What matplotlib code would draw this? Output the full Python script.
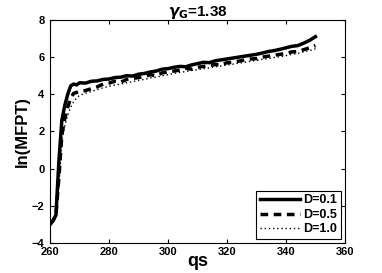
import matplotlib
matplotlib.use("Agg")
from matplotlib import pyplot as plt

plt.rcParams['font.family'] = ['Liberation Sans', 'DejaVu Sans']
plt.rcParams['font.weight'] = 'bold'

# qs grid (fine near the steep rise, coarser afterwards)
qs = [260, 261, 262, 263, 264, 265, 266, 267, 268, 269, 270,
      272, 274, 276, 278, 280, 282, 284, 286, 288, 290,
      292, 294, 296, 298, 300, 302, 304, 306, 308, 310,
      312, 314, 316, 318, 320, 322, 324, 326, 328, 330,
      332, 334, 336, 338, 340, 342, 344, 346, 348, 350]

# ln(MFPT) for D=0.1
d01 = [-3.0, -2.8, -2.5, 0.4, 2.6, 3.4, 4.0, 4.45, 4.55, 4.5, 4.62,
       4.6, 4.7, 4.72, 4.8, 4.82, 4.9, 4.92, 5.0, 4.98, 5.08,
       5.12, 5.2, 5.25, 5.35, 5.38, 5.45, 5.5, 5.48, 5.58, 5.65,
       5.72, 5.7, 5.8, 5.85, 5.9, 5.95, 6.0, 6.05, 6.1, 6.15,
       6.22, 6.3, 6.35, 6.42, 6.5, 6.58, 6.62, 6.75, 6.9, 7.1]

# ln(MFPT) for D=0.5
d05 = [-3.0, -2.8, -2.5, -0.5, 1.8, 2.7, 3.3, 3.8, 4.05, 4.1, 4.15,
       4.2, 4.3, 4.4, 4.55, 4.6, 4.7, 4.65, 4.8, 4.85, 4.9,
       4.95, 5.05, 5.0, 5.15, 5.2, 5.25, 5.3, 5.4, 5.35, 5.45,
       5.5, 5.55, 5.6, 5.58, 5.7, 5.72, 5.78, 5.85, 5.9, 5.92,
       6.0, 6.05, 6.1, 6.15, 6.2, 6.28, 6.3, 6.4, 6.5, 6.62]

# ln(MFPT) for D=1.0
d10 = [-3.0, -2.8, -2.5, -1.0, 1.5, 2.3, 2.9, 3.3, 3.6, 3.8, 3.95,
       4.05, 4.15, 4.25, 4.35, 4.42, 4.5, 4.55, 4.62, 4.68, 4.75,
       4.8, 4.88, 4.92, 5.0, 5.05, 5.12, 5.18, 5.22, 5.28, 5.32,
       5.38, 5.42, 5.48, 5.52, 5.58, 5.62, 5.68, 5.72, 5.78, 5.82,
       5.88, 5.92, 5.98, 6.02, 6.08, 6.15, 6.2, 6.28, 6.35, 6.45]

fig = plt.figure(figsize=(3.82, 2.73), dpi=100)
ax = fig.add_axes([0.131, 0.11, 0.772, 0.817])

ax.plot(qs, d01, color='black', linestyle='-', linewidth=2.5, label='D=0.1')
ax.plot(qs, d05, color='black', linestyle=(0, (2.2, 1.6)), linewidth=2.5, label='D=0.5')
ax.plot(qs, d10, color='black', linestyle=(0, (1, 2)), linewidth=1.0, label='D=1.0')

ax.set_xlim(260, 360)
ax.set_ylim(-4, 8)
ax.set_xticks([260, 280, 300, 320, 340, 360])
ax.set_yticks([-4, -2, 0, 2, 4, 6, 8])
ax.tick_params(direction='in', length=3, labelsize=8, top=True, right=True)
ax.tick_params(axis='x', pad=3)
ax.tick_params(axis='y', pad=4)
for lab in ax.get_xticklabels() + ax.get_yticklabels():
    lab.set_fontweight('bold')

ax.set_xlabel('qs', fontsize=13, fontweight='bold', labelpad=-3)
ax.set_ylabel('ln(MFPT)', fontsize=12, fontweight='bold', labelpad=1)
ax.set_title(r'$\gamma_\mathbf{G}$=1.38', fontsize=11, fontweight='bold', pad=3)

leg = ax.legend(loc='lower right', fontsize=9, handlelength=3.2, handletextpad=0.3,
                borderpad=0.3, labelspacing=0.2, fancybox=False, framealpha=1,
                edgecolor='black', borderaxespad=0.3)
leg.get_frame().set_linewidth(0.8)
for t in leg.get_texts():
    t.set_fontweight('bold')

fig.savefig('out.png', dpi=100)
